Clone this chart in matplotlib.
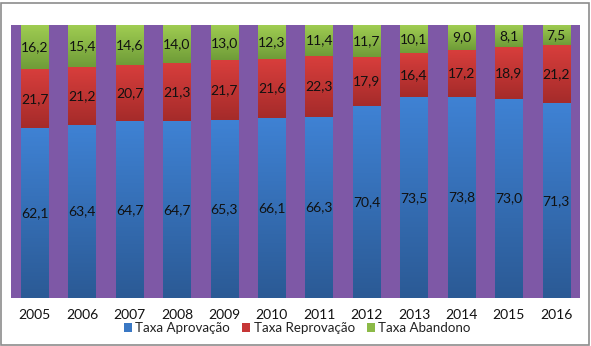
import matplotlib
matplotlib.use("Agg")
import matplotlib.pyplot as plt
import numpy as np
from matplotlib.colors import LinearSegmentedColormap
from matplotlib.patches import Rectangle, Patch

years = ["2005", "2006", "2007", "2008", "2009", "2010", "2011", "2012", "2013", "2014", "2015", "2016"]
aprovacao = [62.1, 63.4, 64.7, 64.7, 65.3, 66.1, 66.3, 70.4, 73.5, 73.8, 73.0, 71.3]
reprovacao = [21.7, 21.2, 20.7, 21.3, 21.7, 21.6, 22.3, 17.9, 16.4, 17.2, 18.9, 21.2]
abandono = [16.2, 15.4, 14.6, 14.0, 13.0, 12.3, 11.4, 11.7, 10.1, 9.0, 8.1, 7.5]
series_names = ["Taxa Aprovação", "Taxa Reprovação", "Taxa Abandono"]

plt.rcParams['font.family'] = ['Lato', 'DejaVu Sans']

fig = plt.figure(figsize=(5.91, 3.46), dpi=100)
fig.patch.set_facecolor("white")
ax = fig.add_axes([11/591, 48/346, 569/591, 273/346])
ax.set_facecolor("#7E58A6")

x = np.arange(len(years))
width = 0.58
grads = [("#3F82D4", "#2B5A95"), ("#D83E3C", "#A52B2A"), ("#A0CD52", "#6F9C38")]
solid = ["#3A78C4", "#C63636", "#8CBA48"]

bottoms = np.zeros(len(years))
for vals, (ctop, cbot), sc, name in zip([aprovacao, reprovacao, abandono], grads, solid, series_names):
    bars = ax.bar(x, vals, width, bottom=bottoms, color=sc, linewidth=0, zorder=2, label=name)
    cmap = LinearSegmentedColormap.from_list("g", [cbot, ctop])
    grad = np.linspace(0, 1, 128).reshape(-1, 1)
    for b, v in zip(bars, vals):
        x0, y0 = b.get_x(), b.get_y()
        w, h = b.get_width(), b.get_height()
        im = ax.imshow(grad, cmap=cmap, origin="lower", aspect="auto",
                       extent=[x0, x0 + w, y0, y0 + h], zorder=3, interpolation="bilinear")
        im.set_clip_path(b)
        ax.text(x0 + w / 2, y0 + h / 2, f"{v:.1f}".replace(".", ","),
                ha="center", va="center", fontsize=10, color="#111111", zorder=5)
    bottoms = bottoms + np.array(vals)

ax.set_xlim(-0.5, len(years) - 0.5)
ax.set_ylim(0, 100)
ax.set_xticks(x)
ax.set_xticklabels(years, fontsize=10, color="#111111")
ax.tick_params(axis="x", length=0, pad=8)
ax.set_yticks([])
for s in ax.spines.values():
    s.set_visible(False)

handles = [Patch(facecolor=c, edgecolor="none") for c in solid]
fig.legend(handles, series_names, loc="center", bbox_to_anchor=(0.503, 0.052), ncol=3,
           frameon=False, fontsize=9.6, handlelength=0.6, handleheight=0.6,
           handletextpad=0.25, columnspacing=0.9, labelcolor="#222222",
           borderpad=0.0)

fig.patches.append(Rectangle((1.5/591, 1.5/346), 587/591, 342/346, transform=fig.transFigure,
                             fill=False, edgecolor="#8C8C8C", linewidth=1.2))

fig.savefig("out.png", dpi=100)
